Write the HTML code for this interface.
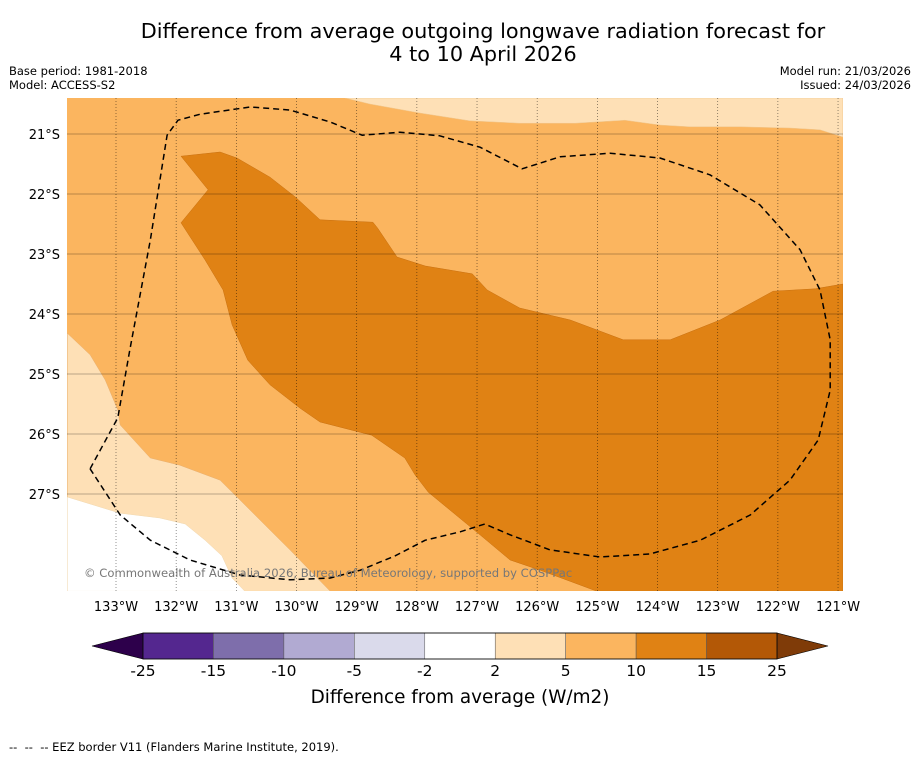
<!DOCTYPE html>
<html><head><meta charset="utf-8"><style>
body{margin:0;background:#fff;width:919px;height:758px;overflow:hidden;font-family:"DejaVu Sans","Liberation Sans",sans-serif}
svg{position:absolute;left:0;top:0}
</style></head><body>
<svg id="s" width="919" height="758">
<text x="483" y="38" font-size="20.8" text-anchor="middle">Difference from average outgoing longwave radiation forecast for</text>
<text x="483" y="61" font-size="20.8" text-anchor="middle">4 to 10 April 2026</text>
<text x="9" y="75" font-size="11.5">Base period: 1981-2018</text>
<text x="9" y="89" font-size="11.5">Model: ACCESS-S2</text>
<text x="911" y="75" font-size="11.5" text-anchor="end">Model run: 21/03/2026</text>
<text x="911" y="89" font-size="11.5" text-anchor="end">Issued: 24/03/2026</text>
<defs><clipPath id="mc"><rect x="67" y="98" width="776" height="493"/></clipPath></defs>
<g id="map" clip-path="url(#mc)"></g>
<g id="axes"></g>
<g id="cbar"></g>
<text x="9" y="751" font-size="11.5" style="white-space:pre">--  --  -- EEZ border V11 (Flanders Marine Institute, 2019).</text>
</svg>
<script>
const lonTicks=[133,132,131,130,129,128,127,126,125,124,123,122,121];
const latTicks=[21,22,23,24,25,26,27];
const cbarBounds=[-25,-15,-10,-5,-2,2,5,10,15,25];
const cbarColors=["#54278f","#7e6eab","#b1aad2","#dadaeb","#ffffff","#fee0b6","#fbb55f","#e08214","#b35806"];
const polyTopPeach=[[129.19,20.40],[128.78,20.50],[127.95,20.65],[127.12,20.78],[126.29,20.82],[125.37,20.82],[124.54,20.77],[123.96,20.85],[123.46,20.88],[122.63,20.88],[121.80,20.90],[121.30,20.93],[120.92,21.05],[120.92,20.40]];
const polyLeftPeach=[[133.81,24.32],[133.43,24.68],[133.18,25.10],[132.97,25.60],[132.93,25.85],[132.43,26.40],[131.94,26.52],[131.27,26.77],[130.94,27.10],[130.52,27.52],[130.11,27.93],[129.78,28.27],[129.44,28.62],[133.81,28.62]];
const polyWhite=[[133.81,27.05],[132.93,27.32],[132.27,27.40],[131.85,27.50],[131.52,27.77],[131.24,28.03],[131.07,28.40],[130.86,28.62],[133.81,28.62]];
const polyDark=[[131.92,21.37],[131.27,21.30],[130.99,21.40],[130.44,21.72],[130.02,22.05],[129.61,22.43],[128.73,22.47],[128.65,22.57],[128.33,23.05],[127.86,23.20],[127.08,23.33],[126.83,23.60],[126.29,23.90],[125.45,24.10],[124.57,24.43],[123.79,24.43],[122.96,24.10],[122.08,23.62],[121.38,23.58],[120.92,23.50],[120.92,28.62],[125.01,28.62],[125.95,28.27],[126.45,28.10],[126.95,27.68],[127.81,26.97],[128.03,26.68],[128.20,26.40],[128.75,26.02],[129.61,25.80],[129.94,25.57],[130.44,25.18],[130.81,24.77],[131.07,24.18],[131.22,23.60],[131.52,23.10],[131.92,22.48],[131.47,21.93]];
const eez=[[133.43,26.58],[132.97,25.73],[132.77,24.60],[132.43,22.77],[132.15,21.02],[131.97,20.77],[131.60,20.67],[130.77,20.55],[130.11,20.60],[129.44,20.80],[128.91,21.02],[128.28,20.97],[127.62,21.03],[126.95,21.22],[126.25,21.58],[125.62,21.38],[124.79,21.32],[123.96,21.40],[123.13,21.68],[122.30,22.18],[121.63,22.93],[121.30,23.60],[121.13,24.43],[121.13,25.27],[121.33,26.10],[121.80,26.77],[122.46,27.35],[123.29,27.77],[124.13,28.00],[124.96,28.05],[125.79,27.93],[126.45,27.68],[126.87,27.50],[127.28,27.63],[127.86,27.77],[128.36,28.03],[128.94,28.27],[129.44,28.40],[130.11,28.43],[130.94,28.35],[131.77,28.10],[132.43,27.77],[132.93,27.35],[133.43,26.58]];

const NS="http://www.w3.org/2000/svg";
const X=lon=>116+(133-lon)*60.17;
const Y=lat=>134+(lat-21)*60;
function mk(tag,attrs,parent){const e=document.createElementNS(NS,tag);for(const k in attrs)e.setAttribute(k,attrs[k]);parent.appendChild(e);return e;}
const map=document.getElementById('map'),axes=document.getElementById('axes'),cb=document.getElementById('cbar');
const pts=p=>p.map(d=>X(d[0]).toFixed(1)+","+Y(d[1]).toFixed(1)).join(" ");

let e=mk('rect',{x:67,y:98,width:776,height:493,fill:"#fbb55f"},map);


e=mk('polygon',{points:pts(polyTopPeach),fill:"#fee0b6",stroke:"#f0c890","stroke-width":0.5},map);


e=mk('polygon',{points:pts(polyLeftPeach),fill:"#fee0b6",stroke:"#e8b070","stroke-width":0.5},map);


e=mk('polygon',{points:pts(polyWhite),fill:"#ffffff",stroke:"#f0d8b0","stroke-width":0.5},map);


e=mk('polygon',{points:pts(polyDark),fill:"#e08214",stroke:"#c87010","stroke-width":0.5},map);



lonTicks.forEach(l=>{
 const x=X(l);
 e=mk('line',{x1:x,x2:x,y1:98,y2:591,stroke:"#000","stroke-width":0.7,"stroke-dasharray":"1,2",opacity:0.6},map);
 
 
 e=mk('text',{x:x,y:611,"font-size":13,"text-anchor":"middle"},axes);
 e.textContent=l+"°W";
 
 
});
latTicks.forEach(l=>{
 const y=Y(l);
 e=mk('line',{x1:67,x2:843,y1:y,y2:y,stroke:"#000","stroke-width":0.7,opacity:0.35},map);
 
 
 e=mk('text',{x:60,y:y+5,"font-size":13,"text-anchor":"end"},axes);
 e.textContent=l+"°S";
 
 
});
e=mk('polyline',{points:pts(eez),fill:"none",stroke:"#000","stroke-width":1.5,"stroke-dasharray":"6,4","stroke-linejoin":"round"},map);


e=mk('text',{x:84,y:577,"font-size":11.6,fill:"#777"},map);
e.textContent="© Commonwealth of Australia 2026, Bureau of Meteorology, supported by COSPPac";



const cx0=143,cx1=777,cy=633,ch=26,n=cbarColors.length,w=(cx1-cx0)/n;
e=mk('polygon',{points:`${cx0},${cy} ${cx0},${cy+ch} 92,${cy+ch/2}`,fill:"#2d004b",stroke:"#000","stroke-width":0.6},cb);


e=mk('polygon',{points:`${cx1},${cy} ${cx1},${cy+ch} 828,${cy+ch/2}`,fill:"#7f3b08",stroke:"#000","stroke-width":0.6},cb);


cbarColors.forEach((c,i)=>{
 e=mk('rect',{x:cx0+i*w,y:cy,width:w,height:ch,fill:c,stroke:"#555","stroke-width":0.5},cb);
 
 
});
mk('rect',{x:cx0,y:cy,width:cx1-cx0,height:ch,fill:"none",stroke:"#000","stroke-width":0.8},cb);
cbarBounds.forEach((b,i)=>{
 e=mk('text',{x:cx0+i*w,y:676,"font-size":15.5,"text-anchor":"middle"},cb);
 e.textContent=b;
 
 
});
e=mk('text',{x:460,y:703,"font-size":18.4,"text-anchor":"middle"},cb);
e.textContent="Difference from average (W/m2)";


</script>
</body></html>
